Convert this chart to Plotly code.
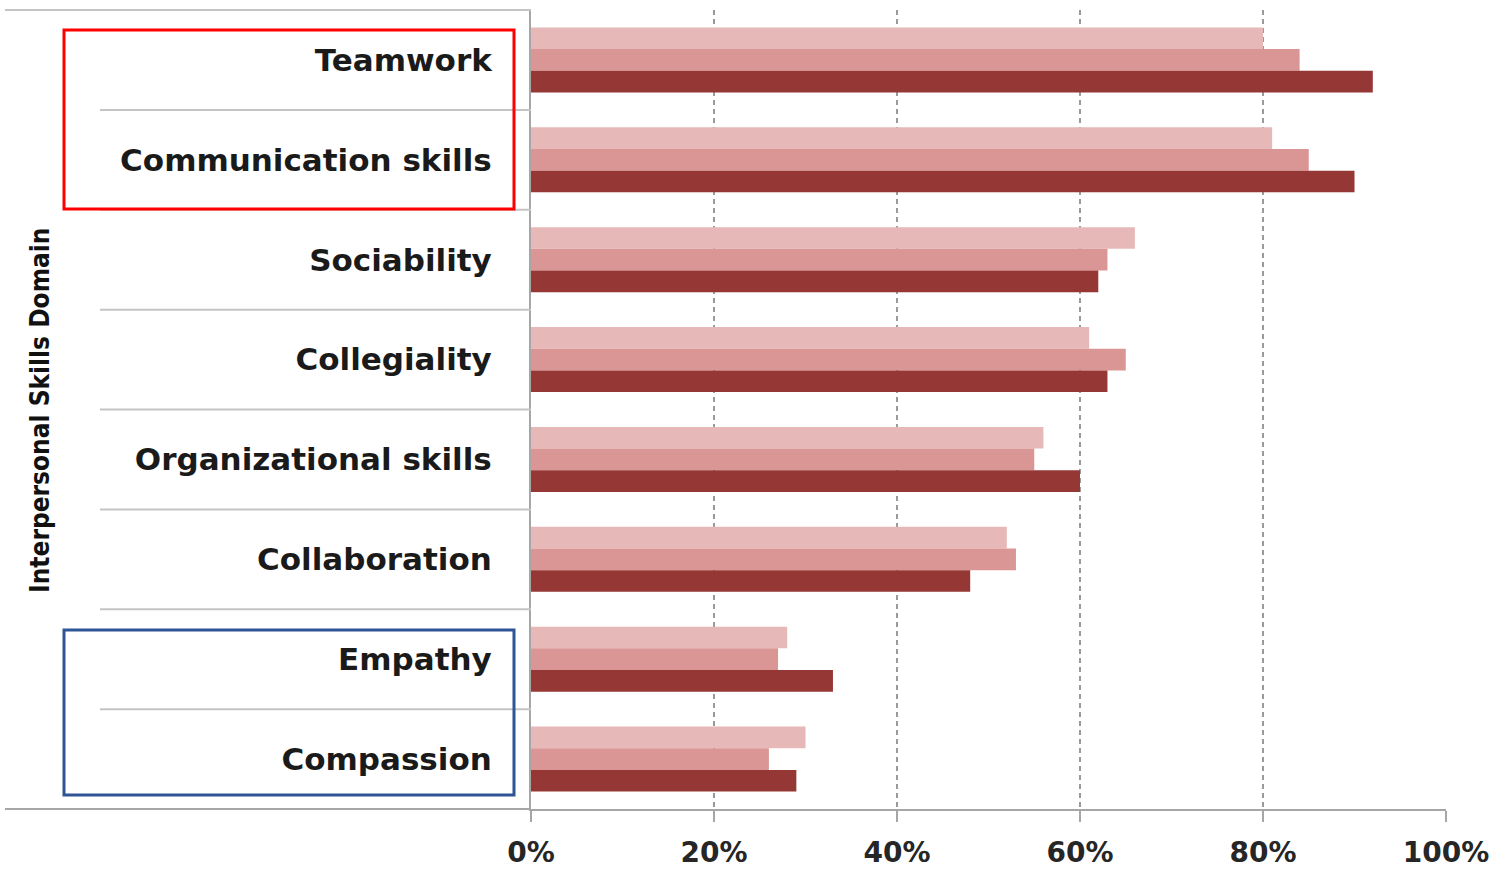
import plotly.graph_objects as go

# Interpersonal skills domains, top to bottom
categories = [
    "Teamwork",
    "Communication skills",
    "Sociability",
    "Collegiality",
    "Organizational skills",
    "Collaboration",
    "Empathy",
    "Compassion",
]

# Share of respondents (%) per domain, three groups
series_light = [80, 81, 66, 61, 56, 52, 28, 30]
series_medium = [84, 85, 63, 65, 55, 53, 27, 26]
series_dark = [92, 90, 62, 63, 60, 48, 33, 29]

x_tickvals = [0, 20, 40, 60, 80, 100]
x_ticktext = ["0%", "20%", "40%", "60%", "80%", "100%"]

colors = ["#e6b9b8", "#d99694", "#953735"]
series = [series_light, series_medium, series_dark]
names = ["Group 1", "Group 2", "Group 3"]

W, H = 1499, 870
ML, MR, MT, MB = 531, 53, 10, 61
PW, PH = W - ML - MR, H - MT - MB


def px_x(p):
    return (p - ML) / PW


def px_y(p):
    return (H - MB - p) / PH


fig = go.Figure()
for vals, col, nm in zip(series, colors, names):
    fig.add_trace(go.Bar(
        y=categories, x=vals, orientation="h", name=nm,
        marker=dict(color=col, line=dict(width=0)),
    ))

fig.update_layout(
    width=W, height=H,
    margin=dict(l=ML, r=MR, t=MT, b=MB, autoexpand=False),
    paper_bgcolor="white", plot_bgcolor="white",
    barmode="group", bargap=0.35, bargroupgap=0,
    showlegend=False,
    xaxis=dict(
        range=[0, 100], tickvals=x_tickvals, ticktext=x_ticktext,
        showgrid=True, gridcolor="#9a9a9a", griddash="5px,4px", gridwidth=1.5,
        showline=True, linecolor="#a6a6a6", linewidth=2,
        ticks="outside", ticklen=11, tickcolor="#a6a6a6", tickwidth=1.5,
        tickfont=dict(family="DejaVu Sans, sans-serif", size=28, color="#262626", weight="bold"),
        ticklabelstandoff=6,
        zeroline=False, fixedrange=True,
    ),
    yaxis=dict(
        categoryorder="array", categoryarray=categories, autorange="reversed",
        showline=True, linecolor="#a6a6a6", linewidth=2,
        ticks="", showgrid=False,
        tickfont=dict(family="DejaVu Sans, Verdana, sans-serif", size=31, color="#1a1a1a", weight="bold"),
        ticklabelstandoff=31,
        fixedrange=True,
    ),
)

# table-style rules between category labels
line_col = "#c4c4c4"
for i in range(1, len(categories)):
    fig.add_shape(type="line", xref="paper", yref="y",
                  x0=px_x(100), x1=0, y0=i - 0.5, y1=i - 0.5,
                  line=dict(color=line_col, width=2))
# top rule
fig.add_shape(type="line", xref="paper", yref="paper",
              x0=px_x(5), x1=0, y0=1, y1=1,
              line=dict(color=line_col, width=2))
# bottom rule extending left of the axis
fig.add_shape(type="line", xref="paper", yref="paper",
              x0=px_x(5), x1=0, y0=0, y1=0,
              line=dict(color="#a6a6a6", width=2))
# axis line continues below into the 0% tick
fig.add_shape(type="line", xref="paper", yref="paper",
              x0=0, x1=0, y0=px_y(809), y1=px_y(822),
              line=dict(color="#a6a6a6", width=2))

# highlight boxes
fig.add_shape(type="rect", xref="paper", yref="paper",
              x0=px_x(64), x1=px_x(514), y0=px_y(30), y1=px_y(209),
              line=dict(color="#ff0000", width=3), fillcolor="rgba(0,0,0,0)")
fig.add_shape(type="rect", xref="paper", yref="paper",
              x0=px_x(64), x1=px_x(514), y0=px_y(630), y1=px_y(795),
              line=dict(color="#2f5597", width=3), fillcolor="rgba(0,0,0,0)")

# vertical axis title
fig.add_annotation(
    text="<b>Interpersonal Skills Domain</b>", textangle=-90,
    xref="paper", yref="paper", x=px_x(40), y=px_y(410),
    xanchor="center", yanchor="middle", showarrow=False,
    font=dict(family="DejaVu Sans Condensed, sans-serif",
              size=26, color="#111111"),
)

fig.write_html("out.html")
